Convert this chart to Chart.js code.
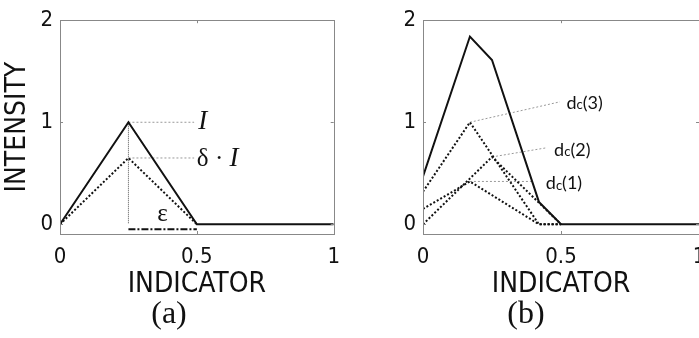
<!DOCTYPE html>
<html>
<head>
<meta charset="utf-8">
<script src="https://cdn.jsdelivr.net/npm/chart.js@4"></script>
<style>
  html, body { margin: 0; padding: 0; background: #fff; }
  body { width: 699px; height: 338px; position: relative; overflow: hidden; }
  .panel { position: absolute; top: 0; }
  .cap { position: absolute; top: 292px; width: 80px; margin-left: -40px; text-align: center;
         font-family: 'Liberation Serif', 'Times New Roman', serif; font-size: 32px; line-height: 40px; color: #111; }
</style>
</head>
<body>
<canvas id="chartA" class="panel" style="left:0" width="350" height="338"></canvas>
<canvas id="chartB" class="panel" style="left:350px" width="370" height="338"></canvas>
<div class="cap" style="left:169px">(a)</div>
<div class="cap" style="left:526px">(b)</div>
<script>
// tick values shared by both panels
const xTicks = [0, 0.5, 1];
const yTicks = [0, 1, 2];

// (a) single indicator, full and scaled intensity
const aX = [0, 0.25, 0.5, 1];
const aIntensity = [0, 1, 0, 0];
const aScaledX = [0, 0.25, 0.5];
const aScaled = [0, 0.65, 0];
const aEpsY = -0.048;

// (b) three contributions and their sum
const bX = [0, 0.17, 0.25, 0.42, 0.5, 1];
const bTotal = [0.47, 1.84, 1.61, 0.22, 0, 0];
const dc1X = [0, 0.17, 0.42, 0.5];
const dc1 = [0.15, 0.42, 0, 0];
const dc2X = [0, 0.25, 0.5];
const dc2 = [0, 0.66, 0];
const dc3X = [0, 0.17, 0.42, 0.5];
const dc3 = [0.32, 1.0, 0, 0];

const sans = "'Liberation Sans Narrow', 'Arial Narrow', 'DejaVu Sans Condensed', 'Liberation Sans', sans-serif";
const serif = "'Liberation Serif', 'Times New Roman', serif";

function pts(xs, ys) {
    return xs.map((x, i) => ({ x: x, y: ys[i] }));
}

function solid(data) {
    return { data: data, borderColor: '#111', borderWidth: 2, showLine: true, pointRadius: 0, tension: 0 };
}
function dotted(data) {
    return { data: data, borderColor: '#111', borderWidth: 2, borderDash: [2, 2], showLine: true, pointRadius: 0 };
}
function leader(data) {
    return { data: data, borderColor: '#999', borderWidth: 1, borderDash: [2, 2], showLine: true, pointRadius: 0 };
}

function axes(yWidth, yTitle) {
    return {
        x: {
            type: 'linear', min: 0, max: 1,
            afterBuildTicks: s => { s.ticks = xTicks.map(v => ({ value: v })); },
            afterFit: s => { s.height = 104; },
            grid: { display: false, drawTicks: false },
            border: { display: false },
            ticks: { color: '#111', font: { family: sans, size: 22 }, padding: 10, maxRotation: 0, callback: v => String(v) },
            title: { display: true, text: 'INDICATOR', color: '#111', font: { family: sans, size: 28 }, padding: { top: 0, bottom: 36 } }
        },
        y: {
            type: 'linear', min: -0.095, max: 2,
            afterBuildTicks: s => { s.ticks = yTicks.map(v => ({ value: v })); },
            afterFit: s => { s.width = yWidth; },
            grid: { display: false, drawTicks: false },
            border: { display: false },
            ticks: { color: '#111', font: { family: sans, size: 22 }, padding: 7, callback: v => String(v) },
            title: { display: !!yTitle, text: yTitle || '', color: '#111', font: { family: sans, size: 28 }, padding: { top: 1, bottom: 0 } }
        }
    };
}

// grey box round the plot, short inward ticks, and the text notes
function frame(notes) {
    return {
        id: 'frame',
        afterDatasetsDraw(chart) {
            const { ctx, chartArea: a, scales } = chart;
            ctx.save();
            ctx.strokeStyle = '#888';
            ctx.lineWidth = 1;
            ctx.strokeRect(Math.round(a.left) + 0.5, Math.round(a.top) + 0.5, Math.round(a.width), Math.round(a.height));
            ctx.beginPath();
            xTicks.forEach(v => {
                const px = Math.round(scales.x.getPixelForValue(v)) + 0.5;
                ctx.moveTo(px, a.bottom); ctx.lineTo(px, a.bottom - 3);
                ctx.moveTo(px, a.top); ctx.lineTo(px, a.top + 3);
            });
            yTicks.forEach(v => {
                const py = Math.round(scales.y.getPixelForValue(v)) + 0.5;
                ctx.moveTo(a.left, py); ctx.lineTo(a.left + 3, py);
                ctx.moveTo(a.right, py); ctx.lineTo(a.right - 3, py);
            });
            ctx.stroke();
            ctx.fillStyle = '#111';
            ctx.textBaseline = 'middle';
            notes.forEach(n => {
                let x = scales.x.getPixelForValue(n.x);
                const y = scales.y.getPixelForValue(n.y);
                n.parts.forEach(p => {
                    ctx.font = p.font;
                    ctx.fillText(p.text, x, y + (p.dy || 0));
                    x += ctx.measureText(p.text).width;
                });
            });
            ctx.restore();
        }
    };
}

function dcLabel(k) {
    return [
        { text: 'd', font: "18px Lato, 'Open Sans', sans-serif" },
        { text: 'c', font: "13px Lato, 'Open Sans', sans-serif", dy: 2 },
        { text: '(' + k + ')', font: "18px Lato, 'Open Sans', sans-serif" }
    ];
}

const chartA = new Chart(document.getElementById('chartA'), {
    type: 'scatter',
    data: {
        datasets: [
            solid(pts(aX, aIntensity)),
            dotted(pts(aScaledX, aScaled)),
            leader([{ x: 0.25, y: 1 }, { x: 0.49, y: 1 }]),
            leader([{ x: 0.25, y: 0.65 }, { x: 0.49, y: 0.65 }]),
            { data: [{ x: 0.25, y: 1 }, { x: 0.25, y: 0 }], borderColor: '#555', borderWidth: 1, borderDash: [1, 1], showLine: true, pointRadius: 0 },
            { data: [{ x: 0.25, y: aEpsY }, { x: 0.5, y: aEpsY }], borderColor: '#111', borderWidth: 2, borderDash: [7, 2, 2, 2], showLine: true, pointRadius: 0 }
        ]
    },
    options: {
        responsive: false,
        animation: false,
        layout: { padding: { top: 15, right: 13, left: 0, bottom: 0 } },
        plugins: { legend: { display: false }, tooltip: { enabled: false } },
        scales: axes(60, 'INTENSITY')
    },
    plugins: [frame([
        { x: 0.505, y: 1.0, parts: [{ text: 'I', font: 'italic 27px ' + serif }] },
        { x: 0.50, y: 0.64, parts: [{ text: 'δ · ', font: '25px ' + serif }, { text: 'I', font: 'italic 27px ' + serif }] },
        { x: 0.355, y: 0.1, parts: [{ text: 'ε', font: '25px ' + serif }] }
    ])]
});

const chartB = new Chart(document.getElementById('chartB'), {
    type: 'scatter',
    data: {
        datasets: [
            solid(pts(bX, bTotal)),
            dotted(pts(dc1X, dc1)),
            dotted(pts(dc2X, dc2)),
            dotted(pts(dc3X, dc3)),
            leader([{ x: 0.17, y: 1.0 }, { x: 0.496, y: 1.2 }]),
            leader([{ x: 0.25, y: 0.66 }, { x: 0.448, y: 0.75 }]),
            leader([{ x: 0.17, y: 0.42 }, { x: 0.40, y: 0.42 }])
        ]
    },
    options: {
        responsive: false,
        animation: false,
        layout: { padding: { top: 15, right: 21, left: 0, bottom: 0 } },
        plugins: { legend: { display: false }, tooltip: { enabled: false } },
        scales: axes(73, '')
    },
    plugins: [frame([
        { x: 0.52, y: 1.19, parts: dcLabel(3) },
        { x: 0.475, y: 0.73, parts: dcLabel(2) },
        { x: 0.445, y: 0.40, parts: dcLabel(1) }
    ])]
});
</script>
</body>
</html>
